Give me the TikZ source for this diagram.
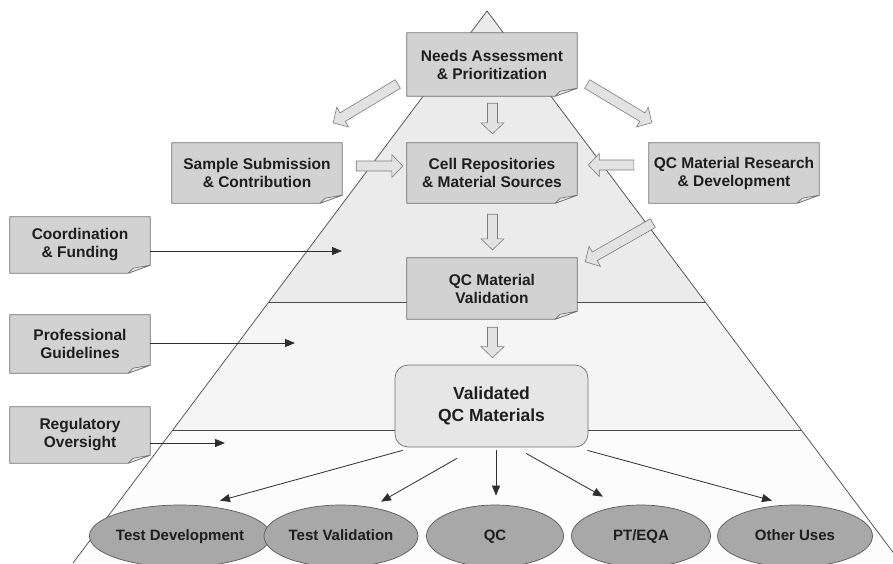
\documentclass[tikz,border=0pt]{standalone}
\usepackage{fontspec}
\setmainfont{Liberation Sans}
\usetikzlibrary{calc,arrows.meta,shapes.geometric}
\pgfdeclarelayer{back}
\pgfdeclarelayer{bg}
\pgfsetlayers{back,bg,main}
\definecolor{boxfill}{HTML}{D2D2D2}
\definecolor{boxline}{HTML}{6E6E6E}
\definecolor{flapfill}{HTML}{E8E8E8}
\definecolor{bandA}{HTML}{EBEBEB}
\definecolor{bandB}{HTML}{F5F5F5}
\definecolor{bandC}{HTML}{FCFCFC}
\definecolor{triline}{HTML}{4A4A4A}
\definecolor{ellfill}{HTML}{A8A8A8}
\definecolor{ellline}{HTML}{5A5A5A}
\definecolor{validfill}{HTML}{E6E6E6}
\definecolor{bafill}{HTML}{E2E2E2}
\definecolor{baline}{HTML}{7C7C7C}
\definecolor{arrowcol}{HTML}{2E2E2E}
\definecolor{txt}{HTML}{1E1E1E}
\tikzset{
  note/.style={align=center, font=\fontsize{15.5}{18}\selectfont\bfseries, text=txt, inner sep=0pt},
  noteline/.style={draw=boxline, fill=boxfill, line width=0.7pt},
  flap/.style={draw=boxline, fill=flapfill, line width=0.6pt, line join=round},
  tri/.style={draw=triline, line width=0.7pt},
  usebox/.style={ellipse, draw=ellline, fill=ellfill, line width=0.7pt, inner sep=0pt,
    text height=11pt, text depth=3pt,
    font=\fontsize{15}{18}\selectfont\bfseries, text=txt},
  validbox/.style={rectangle, rounded corners=13pt, draw=boxline, fill=validfill, line width=0.7pt,
    align=center, font=\fontsize{17.5}{21.5}\selectfont\bfseries, text=txt, inner sep=0pt},
  blockarrow/.style={draw=baline, fill=bafill, line width=0.6pt, line join=miter},
  thinarrow/.style={draw=arrowcol, line width=0.8pt, -{Triangle[length=10pt,width=8pt]}}
}
\newcommand\notebox[6]{%
  \node[note, minimum width=#4pt, minimum height=#5pt] (#1) at (#2,#3) {#6};
  \begin{pgfonlayer}{bg}
    \draw[noteline] (#1.north west) -- (#1.north east) -- ([yshift=8pt]#1.south east)
      -- ([xshift=-22pt]#1.south east) -- (#1.south west) -- cycle;
    \draw[flap] ([xshift=-22pt]#1.south east) -- ([yshift=8pt]#1.south east)
      -- ([xshift=-17pt,yshift=5pt]#1.south east) -- cycle;
  \end{pgfonlayer}}
\newcommand\barrow[2]{%
  \coordinate (ba-s) at #1;
  \coordinate (ba-t) at #2;
  \coordinate (ba-h) at ($(ba-t)!11pt!(ba-s)$);
  \draw[blockarrow] ($(ba-s)!5pt!90:(ba-t)$) -- ($(ba-h)!5pt!-90:(ba-s)$)
    -- ($(ba-h)!11.5pt!-90:(ba-s)$) -- (ba-t) -- ($(ba-h)!11.5pt!90:(ba-s)$)
    -- ($(ba-h)!5pt!90:(ba-s)$) -- ($(ba-s)!5pt!-90:(ba-t)$) -- cycle;}
\begin{document}
\begin{tikzpicture}[x=1pt,y=-1pt]
\useasboundingbox (0,0) rectangle (893,563);
% pyramid
\begin{pgfonlayer}{back}
  \begin{scope}
    \clip (0,0) rectangle (893,563);
    \fill[bandA] (487,11) -- (268.75,302) -- (705.25,302) -- cycle;
    \fill[bandB] (268.75,302) -- (172.75,430) -- (801.25,430) -- (705.25,302) -- cycle;
    \fill[bandC] (172.75,430) -- (73,563) -- (901,563) -- (801.25,430) -- cycle;
    \draw[tri] (73,563) -- (487,11) -- (901,563);
    \draw[tri] (268.75,302) -- (705.25,302);
    \draw[tri] (172.75,430) -- (801.25,430);
  \end{scope}
\end{pgfonlayer}
% note boxes
\notebox{needs}{492}{64.5}{170}{63}{Needs Assessment\\\& Prioritization}
\notebox{sample}{257}{173}{170}{60}{Sample Submission\\\& Contribution}
\notebox{cell}{492}{173}{170}{60}{Cell Repositories\\\& Material Sources}
\notebox{qcrd}{734}{173}{170}{60}{QC Material Research\\\& Development}
\notebox{coord}{80}{245}{140}{56}{Coordination\\\& Funding}
\notebox{prof}{80}{344}{140}{58}{Professional\\Guidelines}
\notebox{reg}{80}{435}{140}{56}{Regulatory\\Oversight}
\notebox{qcval}{492}{288.5}{170}{61}{QC Material\\Validation}
% validated box
\node[validbox, minimum width=193pt, minimum height=82pt] (valid) at (491.5,406) {Validated\\QC Materials};
% uses
\node[usebox, minimum width=155pt, minimum height=62pt] (tdev) at (180,536) {Test Development};
\node[usebox, minimum width=154pt, minimum height=62pt] (tval) at (341,536) {Test Validation};
\node[usebox, minimum width=137pt, minimum height=62pt] (qc) at (495,536) {QC};
\node[usebox, minimum width=139pt, minimum height=62pt] (pteqa) at (641,536) {PT/EQA};
\node[usebox, minimum width=155pt, minimum height=62pt] (other) at (795,536) {Other Uses};
% block arrows
\barrow{($(needs.south)+(0.5,7)$)}{($(cell.north)+(0.5,-9)$)}
\barrow{($(cell.south)+(0.5,11)$)}{($(qcval.north)+(0.5,-8)$)}
\barrow{($(qcval.south)+(0.5,8)$)}{($(valid.north)+(1,-7)$)}
\barrow{($(needs.west)+(-9,19.5)$)}{($(sample.north east)+(-9,-20)$)}
\barrow{($(needs.east)+(10,19.5)$)}{($(qcrd.north west)+(3,-20)$)}
\barrow{($(sample.east)+(14,-7)$)}{($(cell.west)+(-4,-7)$)}
\barrow{($(qcrd.west)+(-15,-8)$)}{($(cell.east)+(11,-8)$)}
\barrow{($(qcrd.south west)+(4,20)$)}{($(qcval.north east)+(8,4)$)}
% thin arrows from side boxes
\coordinate (coordtip) at (342,251);
\coordinate (proftip) at (295,343);
\coordinate (regtip) at (225,443);
\draw[thinarrow] ($(coord.east)+(0,6)$) -- (coordtip);
\draw[thinarrow] ($(prof.east)+(0,-1)$) -- (proftip);
\draw[thinarrow] ($(reg.east)+(0,8)$) -- (regtip);
% thin arrows to uses
\draw[thinarrow] ($(valid.south west)+(8,3)$) -- ($(tdev.north)+(40,-4)$);
\draw[thinarrow] ($(valid.south)+(-34.5,11)$) -- ($(tval.north)+(40,-3)$);
\draw[thinarrow] ($(valid.south)+(4.5,3)$) -- ($(qc.north)+(1,-9)$);
\draw[thinarrow] ($(valid.south)+(34.5,6)$) -- ($(pteqa.north)+(-38,-8)$);
\draw[thinarrow] ($(valid.south east)+(-1,3)$) -- ($(other.north)+(-23,-4)$);
\end{tikzpicture}
\end{document}
